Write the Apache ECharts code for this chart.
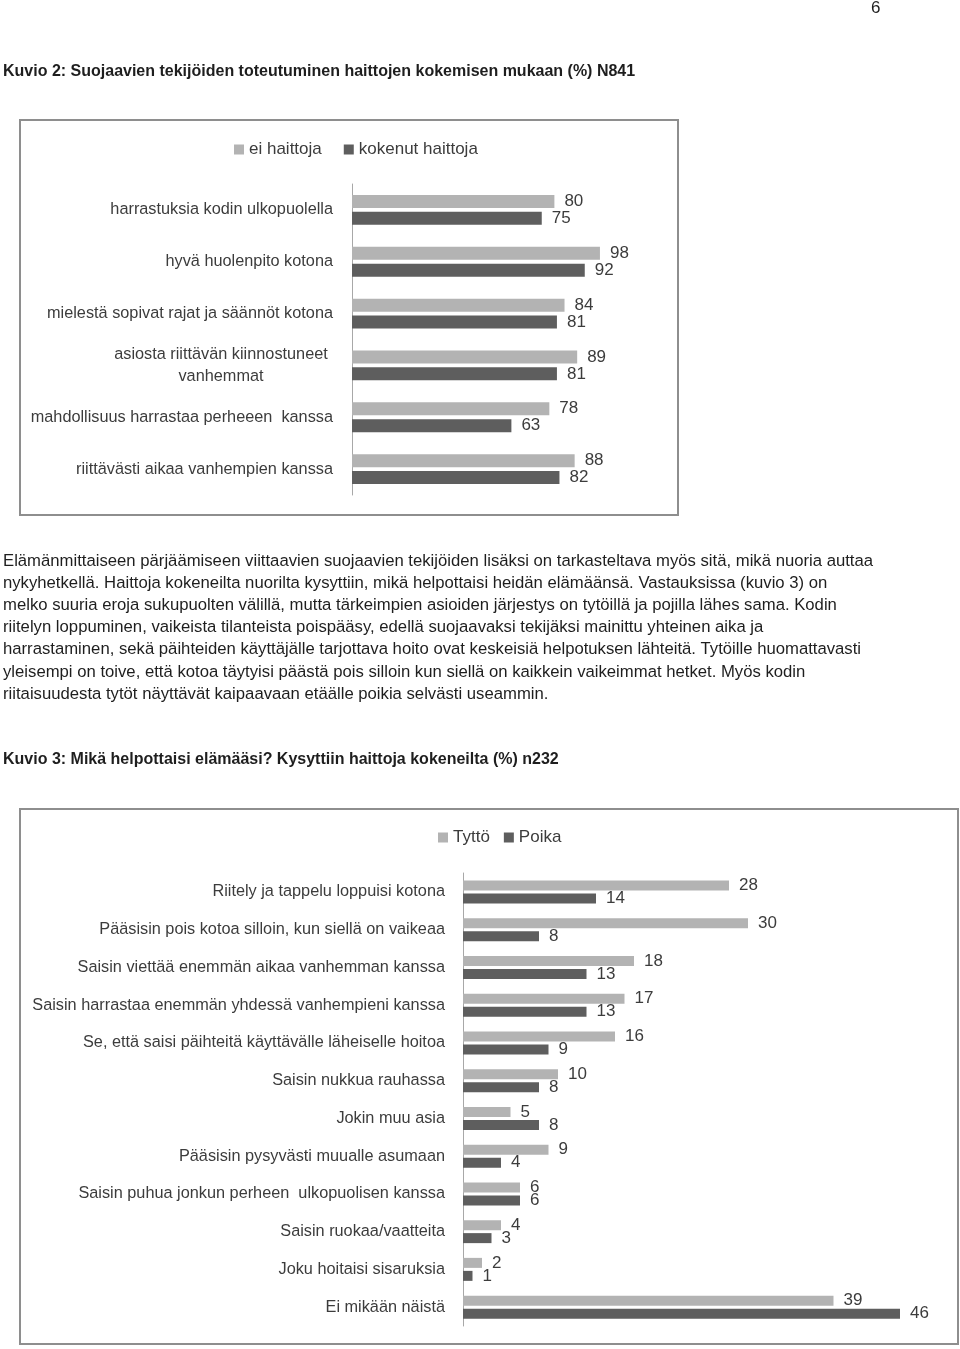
<!DOCTYPE html>
<html>
<head>
<meta charset="utf-8">
<script src="https://cdn.jsdelivr.net/npm/echarts@6/dist/echarts.min.js"></script>
<style>
html,body{margin:0;padding:0;background:#fff;}
#page{width:960px;height:1349px;}
</style>
</head>
<body>
<div id="page"></div>
<script>
// ---- Data ----
const pageNumber = '6';
const heading1 = 'Kuvio 2: Suojaavien tekijöiden toteutuminen haittojen kokemisen mukaan (%) N841';
const heading2 = 'Kuvio 3: Mikä helpottaisi elämääsi? Kysyttiin haittoja kokeneilta (%) n232';
const paragraphLines = [
  'Elämänmittaiseen pärjäämiseen viittaavien suojaavien tekijöiden lisäksi on tarkasteltava myös sitä, mikä nuoria auttaa',
  'nykyhetkellä. Haittoja kokeneilta nuorilta kysyttiin, mikä helpottaisi heidän elämäänsä. Vastauksissa (kuvio 3) on',
  'melko suuria eroja sukupuolten välillä, mutta tärkeimpien asioiden järjestys on tytöillä ja pojilla lähes sama. Kodin',
  'riitelyn loppuminen, vaikeista tilanteista poispääsy, edellä suojaavaksi tekijäksi mainittu yhteinen aika ja',
  'harrastaminen, sekä päihteiden käyttäjälle tarjottava hoito ovat keskeisiä helpotuksen lähteitä. Tytöille huomattavasti',
  'yleisempi on toive, että kotoa täytyisi päästä pois silloin kun siellä on kaikkein vaikeimmat hetket. Myös kodin',
  'riitaisuudesta tytöt näyttävät kaipaavaan etäälle poikia selvästi useammin.'
];

const chart1Categories = [
  'harrastuksia kodin ulkopuolella',
  'hyvä huolenpito kotona',
  'mielestä sopivat rajat ja säännöt kotona',
  'asiosta riittävän kiinnostuneet\nvanhemmat',
  'mahdollisuus harrastaa perheeen  kanssa',
  'riittävästi aikaa vanhempien kanssa'
];
const chart1SeriesNames = ['ei haittoja', 'kokenut haittoja'];
const eiHaittoja = [80, 98, 84, 89, 78, 88];
const kokenutHaittoja = [75, 92, 81, 81, 63, 82];

const chart2Categories = [
  'Riitely ja tappelu loppuisi kotona',
  'Pääsisin pois kotoa silloin, kun siellä on vaikeaa',
  'Saisin viettää enemmän aikaa vanhemman kanssa',
  'Saisin harrastaa enemmän yhdessä vanhempieni kanssa',
  'Se, että saisi päihteitä käyttävälle läheiselle hoitoa',
  'Saisin nukkua rauhassa',
  'Jokin muu asia',
  'Pääsisin pysyvästi muualle asumaan',
  'Saisin puhua jonkun perheen  ulkopuolisen kanssa',
  'Saisin ruokaa/vaatteita',
  'Joku hoitaisi sisaruksia',
  'Ei mikään näistä'
];
const chart2SeriesNames = ['Tyttö', 'Poika'];
const tytto = [28, 30, 18, 17, 16, 10, 5, 9, 6, 4, 2, 39];
const poika = [14, 8, 13, 13, 9, 8, 8, 4, 6, 3, 1, 46];

// ---- Styles ----
const FONT = "'Liberation Sans', Arial, sans-serif";
const LIGHT = '#b3b3b3';
const DARK = '#5e5e5e';
const LABEL_COLOR = '#3c3c3c';
const TEXT_COLOR = '#1e1e1e';

const el = document.getElementById('page');
const chart = echarts.init(el, null, { renderer: 'canvas', width: 960, height: 1349 });

function catLabel(margin) {
  return {
    color: LABEL_COLOR, fontSize: 16.3, fontFamily: FONT, margin: margin, align: 'right',
    lineHeight: 22,
    formatter: function (v) {
      if (v.indexOf('\n') >= 0) {
        return v.split('\n').map(function (s) { return '{c|' + s + '}'; }).join('\n');
      }
      return v;
    },
    rich: { c: { width: 224, align: 'center', fontSize: 16.3, fontFamily: FONT, color: LABEL_COLOR, lineHeight: 22 } }
  };
}

function barSeries(name, data, color, idx, bw, gap) {
  return {
    type: 'bar', name: name, data: data,
    xAxisIndex: idx, yAxisIndex: idx,
    barWidth: bw, barGap: gap,
    itemStyle: { color: color },
    label: { show: true, position: 'right', distance: 10, color: LABEL_COLOR, fontSize: 17, fontFamily: FONT },
    animation: false
  };
}

const graphics = [
  { type: 'text', left: 871, top: 0, style: { text: pageNumber, font: "17px " + FONT, fill: TEXT_COLOR } },
  { type: 'text', left: 3, top: 64, style: { text: heading1, font: "bold 16px " + FONT, fill: TEXT_COLOR } },
  { type: 'text', left: 3, top: 752, style: { text: heading2, font: "bold 16px " + FONT, fill: TEXT_COLOR } },
  { type: 'rect', shape: { x: 20, y: 120, width: 658, height: 395 }, style: { fill: 'none', stroke: '#8e8e8e', lineWidth: 2 }, silent: true },
  { type: 'rect', shape: { x: 20, y: 809, width: 938, height: 535 }, style: { fill: 'none', stroke: '#8e8e8e', lineWidth: 2 }, silent: true }
];
paragraphLines.forEach(function (line, i) {
  graphics.push({ type: 'text', left: 3, top: 552.5 + i * 22.2, style: { text: line, font: "16.7px " + FONT, fill: TEXT_COLOR } });
});

const option = {
  animation: false,
  backgroundColor: '#fff',
  graphic: graphics,
  legend: [
    {
      data: chart1SeriesNames, left: 229, top: 136, icon: 'rect', itemWidth: 10, itemHeight: 10, itemGap: 22,
      textStyle: { color: LABEL_COLOR, fontSize: 17, fontFamily: FONT }, selectedMode: false
    },
    {
      data: chart2SeriesNames, left: 433, top: 824, icon: 'rect', itemWidth: 10, itemHeight: 10, itemGap: 14,
      textStyle: { color: LABEL_COLOR, fontSize: 17, fontFamily: FONT }, selectedMode: false
    }
  ],
  grid: [
    { left: 352, top: 184, width: 253, height: 311, containLabel: false },
    { left: 463, top: 873, width: 475, height: 453, containLabel: false }
  ],
  xAxis: [
    { gridIndex: 0, type: 'value', min: 0, max: 100, show: false },
    { gridIndex: 1, type: 'value', min: 0, max: 50, show: false }
  ],
  yAxis: [
    {
      gridIndex: 0, type: 'category', data: chart1Categories, inverse: true,
      axisLine: { show: true, lineStyle: { color: '#a8a8a8', width: 1 } },
      axisTick: { show: false }, splitLine: { show: false },
      axisLabel: catLabel(19)
    },
    {
      gridIndex: 1, type: 'category', data: chart2Categories, inverse: true,
      axisLine: { show: true, lineStyle: { color: '#a8a8a8', width: 1 } },
      axisTick: { show: false }, splitLine: { show: false },
      axisLabel: catLabel(18)
    }
  ],
  series: [
    barSeries(chart1SeriesNames[0], eiHaittoja, LIGHT, 0, 13, '30%'),
    barSeries(chart1SeriesNames[1], kokenutHaittoja, DARK, 0, 13, '30%'),
    barSeries(chart2SeriesNames[0], tytto, LIGHT, 1, 10, '30%'),
    barSeries(chart2SeriesNames[1], poika, DARK, 1, 10, '30%')
  ]
};
chart.setOption(option);
</script>
</body>
</html>
